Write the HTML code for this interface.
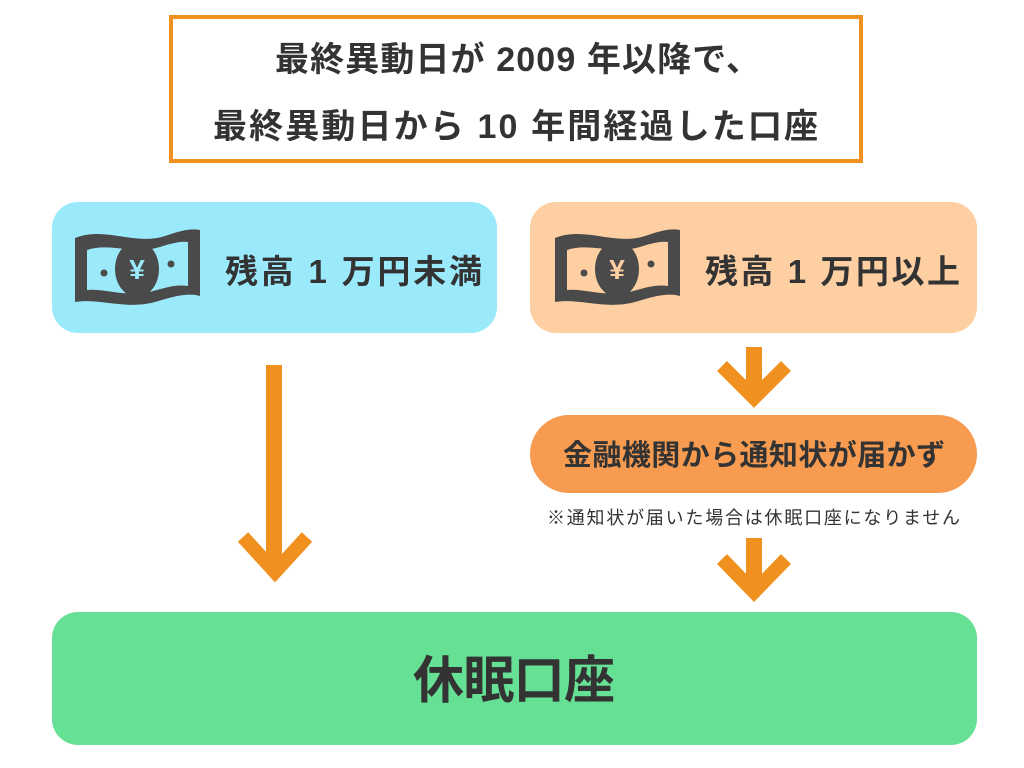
<!DOCTYPE html>
<html><head><meta charset="utf-8"><style>
html,body{margin:0;padding:0;background:#fff;width:1024px;height:768px;overflow:hidden}
svg{display:block}
text{font-family:"Liberation Sans","Noto Sans CJK JP",sans-serif;font-weight:bold;fill:#333}
</style></head><body>
<svg width="1024" height="768" viewBox="0 0 1024 768">
<defs>
<g id="bill">
<path d="M0,10 C30,-2 60,18 90,8 C105,3 115,0 125,2 L125,68 C110,64 95,70 80,74 C50,82 25,70 0,74 Z" fill="#4a4a4a"/>
<path d="M12,22 C35,14 60,28 88,18 C98,15 106,13 113,14 L113,58 C100,56 90,60 78,63 C50,70 30,60 12,62 Z" fill="currentColor"/>
<ellipse cx="62" cy="41" rx="22" ry="28" fill="#4a4a4a"/>
<circle cx="29" cy="45" r="3.5" fill="#4a4a4a"/>
<circle cx="96" cy="36" r="3.5" fill="#4a4a4a"/>
<text x="62" y="51" font-size="28" text-anchor="middle" style="fill:currentColor">¥</text>
</g>
</defs>
<rect x="171" y="17" width="690" height="144" fill="#fff" stroke="#f0901e" stroke-width="4"/>
<text x="275" y="71" font-size="34" textLength="485" lengthAdjust="spacing">最終異動日が 2009 年以降で、</text>
<text x="213" y="138" font-size="34" textLength="605" lengthAdjust="spacing">最終異動日から 10 年間経過した口座</text>

<rect x="52" y="202" width="445" height="131" rx="26" fill="#9aeafc"/>
<g transform="translate(75,228)" color="#9aeafc"><use href="#bill"/></g>
<text x="225" y="283" font-size="33" textLength="257" lengthAdjust="spacing">残高 1 万円未満</text>

<rect x="530" y="202" width="447" height="131" rx="26" fill="#fdcfa2"/>
<g transform="translate(555,228)" color="#fdcfa2"><use href="#bill"/></g>
<text x="705" y="283" font-size="33" textLength="255" lengthAdjust="spacing">残高 1 万円以上</text>

<g fill="none" stroke="#f0901e" stroke-width="16">
<line x1="274" y1="365" x2="274" y2="572"/>
<polyline points="243,537 275,572 307,537" stroke-width="14"/>
<line x1="754" y1="347" x2="754" y2="398"/>
<polyline points="722,366 754,398 786,366" stroke-width="14"/>
<line x1="754" y1="538" x2="754" y2="592"/>
<polyline points="722,559 754,592 786,559" stroke-width="14"/>
</g>

<rect x="530" y="415" width="447" height="78" rx="39" fill="#f69b50"/>
<text x="563" y="465" font-size="29" textLength="382" lengthAdjust="spacing">金融機関から通知状が届かず</text>
<text x="547" y="524" font-size="18" textLength="413" lengthAdjust="spacing" style="font-weight:normal">※通知状が届いた場合は休眠口座になりません</text>

<rect x="52" y="612" width="925" height="133" rx="26" fill="#66e095"/>
<text x="413" y="698" font-size="51" textLength="202" lengthAdjust="spacing">休眠口座</text>
</svg>
</body></html>
